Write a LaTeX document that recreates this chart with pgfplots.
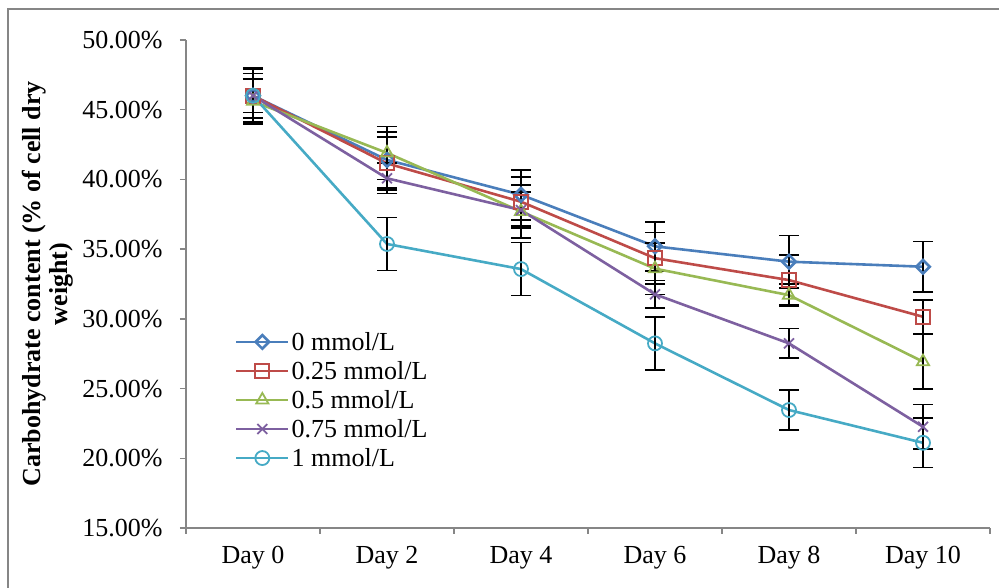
\documentclass[border=0pt]{standalone}
\usepackage{pgfplots}
\pgfplotsset{compat=1.18}
\usepackage{fontspec}
\setmainfont{Liberation Serif}

\definecolor{sblue}{HTML}{4A7EBB}
\definecolor{sred}{HTML}{BE4B48}
\definecolor{sgreen}{HTML}{98B954}
\definecolor{spurple}{HTML}{7D60A0}
\definecolor{scyan}{HTML}{46AAC5}
\definecolor{axgray}{HTML}{868686}

\pgfplotsset{
    carb series/.style={
            line width=2.6pt, mark size=7pt,
            mark options={solid, fill=white, line width=1.8pt},
            error bars/y dir=both, error bars/y explicit,
            error bars/error bar style={line width=1.7pt, black},
            error bars/error mark options={rotate=90, mark size=10pt, line width=1.7pt, black},
        },
}

\begin{document}
\begin{tikzpicture}
    \begin{axis}[
            at={(0,0)}, anchor=south west,
            scale only axis, width=804pt, height=488pt,
            xmin=-0.5, xmax=5.5, ymin=15, ymax=50,
            axis x line*=bottom, axis y line*=left,
            axis line style={axgray, line width=1.5pt},
            xtick={0,1,2,3,4,5},
            xticklabels={Day 0,Day 2,Day 4,Day 6,Day 8,Day 10},
            minor xtick={-0.5,0.5,1.5,2.5,3.5,4.5,5.5},
            major x tick style={draw=none},
            minor x tick style={axgray, line width=1.5pt},
            ytick={15,20,25,30,35,40,45,50},
            yticklabels={15.00\%,20.00\%,25.00\%,30.00\%,35.00\%,40.00\%,45.00\%,50.00\%},
            y tick style={axgray, line width=1.5pt},
            tick align=outside, major tick length=6pt, minor tick length=6pt,
            tick label style={font=\fontsize{26}{29}\selectfont},
            yticklabel style={xshift=-14pt},
            xticklabel style={yshift=-9pt},
            ylabel={Carbohydrate content (\% of cell dry\\weight)},
            ylabel style={font=\fontsize{26}{27}\selectfont\bfseries, align=center,
                    at={(rel axis cs:-0.172,0.5)}, anchor=center},
            legend style={at={(rel axis cs:0.057,0.41)}, anchor=north west,
                    draw=none, fill=none, font=\fontsize{26}{29}\selectfont,
                    row sep=5.5pt},
            legend cell align=left,
            legend image code/.code={
                    \draw[mark repeat=2, mark phase=2, #1]
                    plot coordinates {(0pt,0pt) (26pt,0pt) (52pt,0pt)};
                },
        ]
        % 0 mmol/L
        \addplot[carb series, sblue, mark=square, mark options={rotate=45, mark size=4.8pt}]
        coordinates {(0,46.0) +- (0,2.0) (1,41.4) +- (0,2.0) (2,38.9) +- (0,1.8)
                (3,35.2) +- (0,1.75) (4,34.1) +- (0,1.87) (5,33.74) +- (0,1.8)};
        \addlegendentry{0 mmol/L}
        % 0.25 mmol/L
        \addplot[carb series, sred, mark=square]
        coordinates {(0,46.0) +- (0,1.6) (1,41.15) +- (0,1.9) (2,38.4) +- (0,1.75)
                (3,34.35) +- (0,1.85) (4,32.78) +- (0,1.8) (5,30.15) +- (0,1.2)};
        \addlegendentry{0.25 mmol/L}
        % 0.5 mmol/L
        \addplot[carb series, sgreen, mark=triangle]
        coordinates {(0,45.6) +- (0,1.6) (1,41.9) +- (0,1.9) (2,37.7) +- (0,1.9)
                (3,33.6) +- (0,1.86) (4,31.7) +- (0,0.8) (5,26.93) +- (0,1.95)};
        \addlegendentry{0.5 mmol/L}
        % 0.75 mmol/L
        \addplot[carb series, spurple, mark=x]
        coordinates {(0,46.0) +- (0,1.9) (1,40.08) +- (0,1.1) (2,37.8) +- (0,1.3)
                (3,31.76) +- (0,1.0) (4,28.24) +- (0,1.07) (5,22.26) +- (0,1.6)};
        \addlegendentry{0.75 mmol/L}
        % 1 mmol/L
        \addplot[carb series, scyan, mark=o]
        coordinates {(0,46.0) +- (0,1.2) (1,35.37) +- (0,1.9) (2,33.57) +- (0,1.9)
                (3,28.24) +- (0,1.9) (4,23.46) +- (0,1.44) (5,21.11) +- (0,1.77)};
        \addlegendentry{1 mmol/L}
    \end{axis}
    % chart area frame (only left and top edges fall inside the page)
    \draw[axgray, line width=1.5pt] (-178pt,-70pt) -- (-178pt,519pt) -- (820pt,519pt);
    \pgfresetboundingbox
    \useasboundingbox (-186pt,-60pt) rectangle (813pt,528pt);
\end{tikzpicture}
\end{document}
